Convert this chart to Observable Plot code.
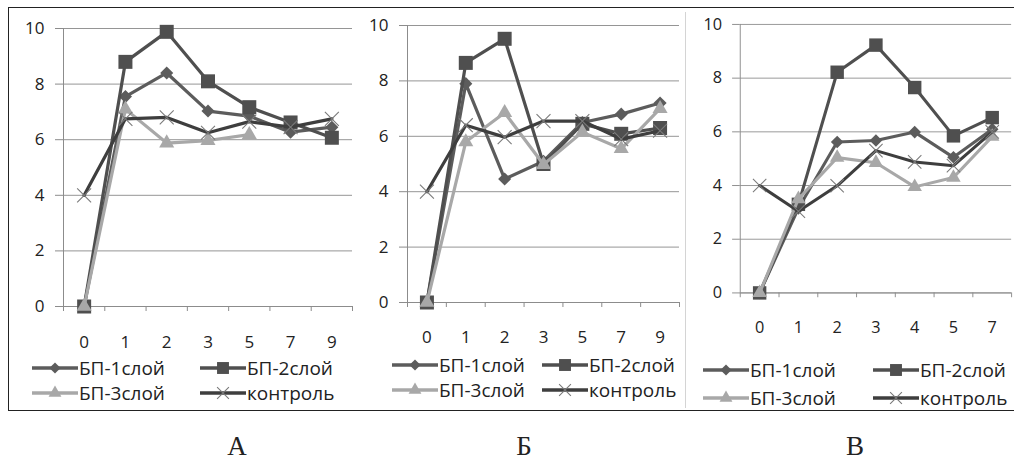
<!DOCTYPE html>
<html><head><meta charset="utf-8">
<script src="https://cdn.jsdelivr.net/npm/d3@7"></script>
<script src="https://cdn.jsdelivr.net/npm/@observablehq/plot@0.6"></script>
<style>
body{margin:0;width:1014px;height:459px;overflow:hidden;background:#fff;position:relative;font-family:"Open Sans",sans-serif;color:#222;}
#frame{position:absolute;left:8px;top:7px;width:1100px;height:404px;border:1.5px solid #222;box-sizing:border-box;}
#sep{position:absolute;left:685px;top:12px;width:1px;height:396px;background:#d4d4d4;}
.panel{position:absolute;top:0;}
.leg{position:absolute;display:flex;align-items:center;font-size:19px;white-space:nowrap;line-height:20px;}
.leg svg{display:block;margin-right:1px;}
.letter{position:absolute;top:431px;font-family:"Liberation Serif","DejaVu Serif",serif;font-size:27px;transform:translateX(-50%);color:#222;}
</style></head><body>
<div id="frame"></div><div id="sep"></div>
<script>
const seriesNames = ["БП-1слой","БП-2слой","БП-3слой","контроль"];
const yTicks = [0,2,4,6,8,10];

const catsA = ["0","1","2","3","5","7","9"];
const bp1A  = [0, 7.55, 8.4, 7.03, 6.85, 6.27, 6.45];
const bp2A  = [0, 8.8, 9.88, 8.1, 7.17, 6.62, 6.07];
const bp3A  = [0, 7.1, 5.88, 5.97, 6.18, null, null];
const ctrlA = [4.0, 6.75, 6.8, 6.25, 6.65, 6.45, 6.75];

const catsB = ["0","1","2","3","5","7","9"];
const bp1B  = [0, 7.9, 4.46, 5.1, 6.5, 6.8, 7.2];
const bp2B  = [0, 8.65, 9.52, 5.0, 6.45, 6.09, 6.3];
const bp3B  = [0, 5.8, 6.85, 4.98, 6.15, 5.55, 7.0];
const ctrlB = [4.0, 6.4, 5.97, 6.55, 6.55, 5.9, 6.2];

const catsC = ["0","1","2","3","4","5","7"];
const bp1C  = [0, 3.15, 5.62, 5.68, 5.99, 5.05, 6.1];
const bp2C  = [0, 3.3, 8.22, 9.23, 7.65, 5.85, 6.53];
const bp3C  = [0, 3.5, 5.04, 4.85, 3.95, 4.3, 5.82];
const ctrlC = [4.0, 3.04, 3.99, 5.3, 4.88, 4.74, 6.0];

const panelLetters = ["А","Б","В"];

const lineColors = ["#5c5c5c","#4f4f4f","#a8a8a8","#3e3e3e"];
const symbols = ["diamond2","square","triangle","times"];
const radii = [5.9, 7.9, 5.6, 6.4];
const gridColor = "#959595";
const axisColor = "#8c8c8c";

function panel(cats, series, cfg){
  const n = cats.length;
  const marks = [
    Plot.gridY({ticks: yTicks, stroke: gridColor, strokeOpacity: 1}),
    Plot.ruleX([-0.5], {y1: 0, y2: 10, stroke: axisColor}),
    Plot.ruleY([0], {stroke: axisColor}),
    Plot.axisY({ticks: yTicks, label: null, tickSize: 8, tickPadding: 11, stroke: axisColor, fill: "#222", fontSize: 17}),
    Plot.axisX({ticks: d3.range(n), label: null, tickFormat: i => cats[i], tickSize: 0, tickPadding: cfg.pad, fill: "#222", fontSize: 17}),
    Plot.axisX({ticks: d3.range(n + 1).map(i => i - 0.5), label: null, tickFormat: () => "", tickSize: 5, stroke: axisColor})
  ];
  series.forEach((vals, s) => {
    const rows = vals.map((v, i) => ({i, v}));
    marks.push(Plot.line(rows, {x: "i", y: "v", stroke: lineColors[s], strokeWidth: 3.2, strokeLinejoin: "round"}));
    const pts = rows.filter(d => d.v != null);
    if (symbols[s] === "times") {
      marks.push(Plot.dot(pts, {x: "i", y: "v", symbol: "times", r: radii[s], stroke: "#7a7a7a", strokeWidth: 1.1}));
    } else {
      marks.push(Plot.dot(pts, {x: "i", y: "v", symbol: symbols[s], r: radii[s], fill: lineColors[s], stroke: "none"}));
    }
  });
  const svg = Plot.plot({
    width: cfg.width, height: cfg.height,
    marginLeft: cfg.ml, marginRight: cfg.mr, marginTop: cfg.mt, marginBottom: cfg.mb,
    x: {domain: [-0.5, n - 0.5], label: null},
    y: {domain: [0, 10], label: null},
    style: {fontFamily: "'Open Sans', sans-serif", fontSize: "17px", background: "transparent", overflow: "visible"},
    marks
  });
  const wrap = document.createElement("div");
  wrap.className = "panel";
  wrap.style.left = cfg.left + "px";
  wrap.appendChild(svg);
  document.body.appendChild(wrap);
}

function swatch(s){
  const w = 46, h = 20;
  const svg = d3.create("svg").attr("width", w).attr("height", h).style("overflow","visible");
  svg.append("line").attr("x1", 0).attr("x2", w).attr("y1", h/2).attr("y2", h/2)
    .attr("stroke", lineColors[s]).attr("stroke-width", 3.6);
  const symMap = {diamond2: d3.symbolDiamond2, square: d3.symbolSquare, triangle: d3.symbolTriangle, times: d3.symbolTimes};
  const r = radii[s] * 0.85;
  const p = d3.symbol(symMap[symbols[s]], Math.PI * r * r)();
  const path = svg.append("path").attr("d", p).attr("transform", `translate(${w/2},${h/2})`);
  if (symbols[s] === "times") path.attr("fill","none").attr("stroke","#7a7a7a").attr("stroke-width",1.1);
  else path.attr("fill", lineColors[s]);
  return svg.node();
}

function legend(cols, rows){
  let k = 0;
  rows.forEach(y => cols.forEach(x => {
    const d = document.createElement("div");
    d.className = "leg";
    d.style.left = x + "px";
    d.style.top = (y - 10) + "px";
    d.appendChild(swatch(k));
    const t = document.createElement("span");
    t.textContent = seriesNames[k];
    d.appendChild(t);
    document.body.appendChild(d);
    k++;
  }));
}

panel(catsA, [bp1A, bp2A, bp3A, ctrlA], {left: 0, width: 360, height: 360, ml: 63, mr: 8, mt: 28, mb: 54, pad: 29});
panel(catsB, [bp1B, bp2B, bp3B, ctrlB], {left: 350, width: 335, height: 360, ml: 57, mr: 6, mt: 25, mb: 58, pad: 28});
panel(catsC, [bp1C, bp2C, bp3C, ctrlC], {left: 688, width: 340, height: 360, ml: 54, mr: 3, mt: 25, mb: 55, pad: 30});

legend([32, 200], [368, 393]);
legend([392, 542], [365, 390]);
legend([703, 873], [370, 398]);

[237, 524, 855].forEach((x, i) => {
  const d = document.createElement("div");
  d.className = "letter";
  d.style.left = x + "px";
  d.textContent = panelLetters[i];
  document.body.appendChild(d);
});
</script>
</body></html>
